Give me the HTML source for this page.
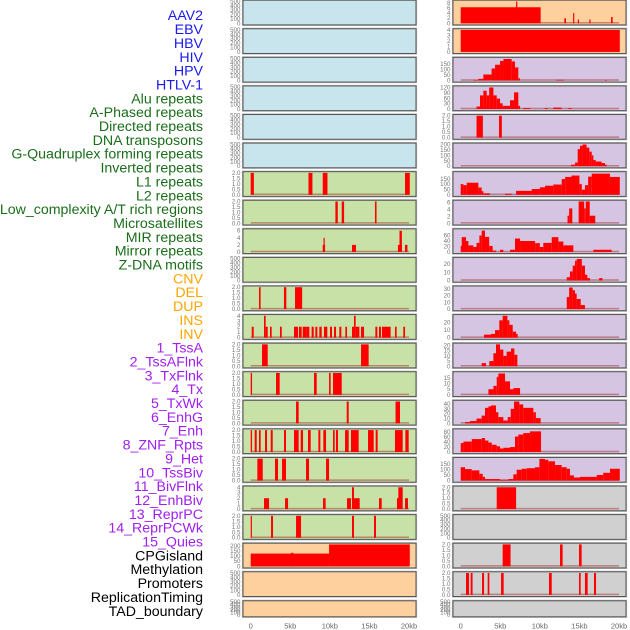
<!DOCTYPE html>
<html><head><meta charset="utf-8"><style>
html,body{margin:0;padding:0;background:#fff;}
svg{display:block;font-family:"Liberation Sans",sans-serif;}
</style></head><body>
<svg id="chart" width="630" height="630"></svg>
<script>
const labelNames = ["AAV2","EBV","HBV","HIV","HPV","HTLV-1","Alu repeats","A-Phased repeats","Directed repeats","DNA transposons","G-Quadruplex forming repeats","Inverted repeats","L1 repeats","L2 repeats","Low_complexity A/T rich regions","Microsatellites","MIR repeats","Mirror repeats","Z-DNA motifs","CNV","DEL","DUP","INS","INV","1_TssA","2_TssAFlnk","3_TxFlnk","4_Tx","5_TxWk","6_EnhG","7_Enh","8_ZNF_Rpts","9_Het","10_TssBiv","11_BivFlnk","12_EnhBiv","13_ReprPC","14_ReprPCWk","15_Quies","CPGisland","Methylation","Promoters","ReplicationTiming","TAD_boundary"];
const labelGroups = ["virus","virus","virus","virus","virus","virus","repeat","repeat","repeat","repeat","repeat","repeat","repeat","repeat","repeat","repeat","repeat","repeat","repeat","sv","sv","sv","sv","sv","chrom","chrom","chrom","chrom","chrom","chrom","chrom","chrom","chrom","chrom","chrom","chrom","chrom","chrom","chrom","other","other","other","other","other"];
const xTickValues = [0,5000,10000,15000,20000];
const xTickLabels = ["0","5kb","10kb","15kb","20kb"];

const T500=[0,100,200,300,400,500], T2=[0,0.5,1,1.5,2];
// left column segments [startKb,endKb,value]
const L6=[[0,0.4,2],[7.3,7.8,2],[9.1,9.7,2],[19.5,20.1,2]];
const L7=[[10.7,11.0,2],[11.5,11.8,2],[15.7,15.9,2]];
const L8=[[9.1,9.4,2],[9.2,9.35,4],[12.8,13.3,2],[18.6,19.1,2],[18.8,19.1,6],[19.5,19.8,2]];
const L10=[[1.05,1.25,2],[4.2,4.5,2],[5.6,6.1,2],[6.1,6.5,2]];
const L11=[[0.13,0.38,2],[1.68,1.89,4],[1.89,2.15,2],[2.44,2.65,2],[3.7,3.92,2],[5.47,5.98,2],[6.1,6.44,2],[6.57,7.07,2],[7.07,7.41,2],[7.7,7.96,2],[8.17,8.42,2],[8.67,8.97,2],[9.26,9.68,2],[10.02,10.27,2],[10.53,10.78,2],[11.2,11.45,2],[11.96,12.17,2],[12.8,13.05,2],[13.05,13.26,4],[13.26,13.73,2],[13.94,14.32,2],[15.75,16.0,2],[16.21,16.46,2],[16.59,17.68,2],[18.23,18.44,2],[19.28,19.5,2]];
const L12=[[1.43,2.15,2],[13.94,14.9,2]];
const L13=[[0,0.17,2],[3.2,3.66,2],[8.0,8.34,2],[9.9,10.1,2],[10.4,11.5,2]];
const L14=[[5.73,6.06,2],[12.13,12.38,2],[18.3,18.86,2]];
const L15=[[0,0.17,2],[0.5,0.76,2],[1.05,1.26,2],[1.81,2.06,2],[2.53,2.78,2],[4.21,4.46,2],[5.47,6.06,2],[6.32,6.61,2],[7.24,7.58,2],[8.55,8.8,2],[9.18,9.52,2],[10.4,10.61,2],[10.78,11.03,2],[11.92,12.38,2],[12.67,13.64,2],[14.82,15.54,2],[15.79,16.04,2],[18.23,19.2,2],[19.54,19.96,2]];
const L16=[[0.84,1.52,2],[3.07,3.45,2],[3.96,4.46,2],[6.99,7.37,2],[9.52,9.9,2]];
const L17=[[1.68,2.32,2],[4.34,4.72,2],[9.14,9.47,2],[12.17,12.67,2],[12.8,13.05,4],[13.05,13.77,2],[16.21,16.55,2],[18.48,18.78,2],[18.65,19.2,4],[19.5,19.87,2]];
const L18=[[0,0.13,2],[2.57,2.82,2],[5.73,6.36,2],[12.8,13.05,2],[15.58,15.83,2]];
const L19=[[0,9.9,125],[5.1,5.4,133],[9.9,20.1,220]];
// right column segments
const R0=[[0,10.1,6.3],[7.0,7.15,8.8],[13.1,13.3,2],[14.2,14.35,4],[14.8,14.95,1.5],[16.25,16.4,1.5],[19.0,19.2,2.5]];
const R1=[[0,20.1,4]];
const R2=[[1.6,2.23,5],[2.23,2.86,15],[2.86,3.9,55],[3.9,4.34,110],[4.34,4.97,145],[4.97,5.4,180],[5.4,6.44,198],[6.44,6.86,175],[6.86,7.28,120],[7.28,7.5,20],[12.1,13.0,6],[18.2,18.5,5]];
const R3=[[2.0,2.44,14],[2.44,2.86,76],[2.86,3.28,102],[3.28,3.6,76],[3.6,4.13,120],[4.13,4.55,76],[4.55,4.97,58],[4.97,5.3,32],[5.3,6.23,18],[6.23,6.74,49],[6.74,7.28,93],[7.28,7.5,18],[7.9,8.8,5],[10.6,11.0,5],[11.7,12.75,8],[13.6,14.0,5]];
const R4=[[2.0,2.8,2],[4.84,5.2,2]];
const R5=[[13.94,14.45,14],[14.45,14.78,34],[14.78,15.07,157],[15.07,15.4,189],[15.4,15.9,200],[15.9,16.25,171],[16.25,16.55,134],[16.55,16.76,100],[16.76,17.05,57],[17.05,17.8,43],[17.8,18.23,29],[18.23,18.45,14]];
const R6=[[0,0.34,100],[0.34,0.76,90],[0.76,2.23,113],[2.23,2.65,68],[2.65,2.86,34],[2.86,3.7,14],[5.6,6.44,10],[7.0,8.97,37],[8.97,10.0,54],[10.0,10.65,70],[10.65,11.7,85],[11.7,12.76,96],[12.76,13.2,147],[13.2,14.0,167],[14.0,15.0,180],[15.0,15.3,100],[15.3,15.7,48],[15.7,16.1,90],[16.1,16.55,170],[16.55,18.86,198],[18.86,20.1,167]];
const R7=[[13.5,13.7,2.2],[13.7,14.1,4.3],[14.9,15.6,6.3],[15.6,15.8,4.3],[15.8,16.3,6.3],[16.3,17.0,2.2]];
const R8=[[0,0.13,22],[0.13,0.67,54],[0.67,0.97,40],[0.97,1.6,24],[1.6,2.0,18],[2.0,2.36,33],[2.36,2.65,60],[2.65,3.07,78],[3.07,3.6,55],[3.6,4.04,22],[4.04,4.46,5],[4.97,5.39,8],[6.23,6.86,8],[6.86,7.5,49],[7.5,9.4,40],[9.4,10.0,32],[10.0,10.44,18],[10.44,11.5,33],[11.5,12.34,54],[12.34,12.97,38],[12.97,14.23,24],[16.76,19.07,8]];
const R9=[[13.4,13.8,4],[13.8,14.15,11],[14.15,14.44,18],[14.44,14.65,24],[14.65,15.3,26],[15.3,15.7,18],[15.7,16.0,7],[16.0,16.34,3],[17.5,17.9,3]];
const R10=[[13.4,13.7,18],[13.7,14.15,32],[14.15,14.44,28],[14.44,14.65,23],[14.65,15.16,15],[15.16,15.7,6]];
const R11=[[2.95,3.83,4],[3.83,4.34,5],[4.34,4.88,10],[4.88,5.3,23],[5.3,5.9,29],[5.9,6.15,23],[6.15,6.57,17],[6.57,7.0,8],[7.0,7.2,5]];
const R12=[[2.65,3.2,3],[3.62,4.13,5],[4.13,4.46,12.5],[4.46,4.97,21],[4.97,5.39,16],[5.39,5.8,10],[5.8,6.36,14],[6.36,6.78,17],[6.78,7.16,11]];
const R13=[[3.5,4.13,5],[4.13,4.55,8],[4.55,4.76,16],[4.76,5.6,19],[5.6,6.23,12],[6.23,6.65,5],[6.65,7.5,6]];
const R14=[[0.55,1.18,3],[1.18,2.0,5],[2.0,2.65,10],[2.65,3.07,16],[3.07,3.5,32],[3.5,3.83,35],[3.83,4.46,37],[4.46,4.76,23],[4.76,5.39,13],[5.39,5.94,6],[5.94,6.32,13],[6.32,6.74,30],[6.74,7.41,45],[7.41,7.9,39],[7.9,9.18,32],[9.18,9.5,23],[9.5,10.1,11]];
const R15=[[0,0.34,36],[0.34,1.4,42],[1.4,2.65,52],[2.65,3.07,56],[3.07,3.5,46],[3.5,3.92,38],[3.92,4.55,29],[4.55,4.97,23],[4.97,5.39,14],[5.39,6.23,17],[6.23,6.86,20],[6.86,7.28,62],[7.28,7.9,70],[7.9,8.76,76],[8.76,10.15,83]];
const R16=[[0,0.55,122],[0.55,1.39,105],[1.39,2.36,93],[2.36,2.78,62],[2.78,3.07,34],[3.07,4.97,14],[4.97,6.02,8],[6.02,6.65,14],[6.65,7.07,57],[7.07,7.7,99],[7.7,8.34,108],[8.34,9.39,113],[9.39,9.94,122],[9.94,10.65,198],[10.65,11.07,190],[11.07,11.92,176],[11.92,12.76,142],[12.76,13.4,122],[13.4,13.8,108],[13.8,14.3,48],[14.3,15.07,28],[15.07,17.18,34],[17.18,18.0,51],[18.0,18.86,71],[18.86,20.1,108]];
const R17=[[4.55,7.0,2]];
const R19=[[5.3,6.3,2],[12.55,12.88,2],[14.95,15.28,2]];
const R20=[[0.67,1.05,2],[1.26,1.5,2],[2.7,2.95,2],[3.41,3.62,2],[5.1,5.43,2],[11.16,11.5,2],[14.95,15.16,2],[15.7,16.04,2],[16.84,17.1,2]];

const leftSegs=[[],[],[],[],[],[],L6,L7,L8,[],L10,L11,L12,L13,L14,L15,L16,L17,L18,L19,[],[]];
const leftTicks=[T500,T500,T500,T500,T500,T500,T2,T2,[0,2,4,6],T500,T2,[0,1,2,3,4],T2,T2,T2,T2,T2,[0,1,2,3,4],T2,[0,50,100,150,200],T500,T500];
const leftMax=[500,500,500,500,500,500,2,2,6.2,500,2,4,2,2,2,2,2,4,2,215,500,500];
const leftBg=["b","b","b","b","b","b","g","g","g","g","g","g","g","g","g","g","g","g","g","o","o","o"];
const rightSegs=[R0,R1,R2,R3,R4,R5,R6,R7,R8,R9,R10,R11,R12,R13,R14,R15,R16,R17,[],R19,R20,[]];
const rightTicks=[[0,2,4,6,8],[0,1,2,3,4],[0,50,100,150],[0,30,60,90,120],T2,[0,50,100,150,200],[0,50,100,150],[0,2,4,6],[0,20,40,60],[0,10,20],[0,10,20,30],[0,10,20],[0,5,10,15,20],[0,5,10,15],[0,10,20,30,40],[0,20,40,60,80],[0,50,100,150],T2,T500,T2,T2,T500];
const rightMax=[8.6,4,202,122,2,202,205,6.3,80,26.5,32.5,29,21,19.5,45,88,200,2,500,2,2,500];
const rightBg=["o","o","p","p","p","p","p","p","p","p","p","p","p","p","p","p","p","gr","gr","gr","gr","gr"];

const NS="http://www.w3.org/2000/svg";
const svg=document.getElementById('chart');
const bgColors={b:"#c8e4ec",g:"#c8e1a6",o:"#fed09e",p:"#d5c5e2",gr:"#d0d0d0"};
const groupColors={virus:"#1a1aee",repeat:"#1a6e1a",sv:"#ffa500",chrom:"#a020f0",other:"#000000"};
function mk(tag,attrs,parent){const e=document.createElementNS(NS,tag);for(const k in attrs)e.setAttribute(k,attrs[k]);(parent||svg).appendChild(e);return e;}

// labels
labelNames.forEach((n,i)=>{
  const t=mk('text',{x:203,y:15.2+i*13.85+5,'text-anchor':'end','font-size':'14.2',fill:groupColors[labelGroups[i]],textLength:0});
  t.removeAttribute('textLength');
  
  
  t.textContent=n;
});

function xScale(col,kb){const x0=col===0?250.7:460.7;return x0+kb*7.915;}
function panelTop(r){return r<21?0.2+r*28.58:600.8;}
function panelH(r){return r<21?24.7:16;}

function drawPanel(col,r,segs,ticks,ymax,bg){
  const g=mk('g',{});
  
  
  const px=col===0?243:453, pw=173;
  const top=panelTop(r), h=panelH(r);
  const base=top+h-1.6, ytop=top+1.2;
  const ys=v=>base-(Math.min(v,ymax)/ymax)*(base-ytop);
  mk('rect',{x:px-0.5,y:top-0.5,width:pw+1,height:h+1,fill:'none',stroke:'#bbb','stroke-width':1.2},g);
  const bgr=mk('rect',{x:px,y:top,width:pw,height:h,fill:bgColors[bg],stroke:'#555','stroke-width':1},g);
  
  
  if(segs.length){
    mk('line',{x1:xScale(col,0),x2:xScale(col,20),y1:base-0.5,y2:base-0.5,stroke:'rgba(170,60,60,0.55)','stroke-width':1.5},g);
  }
  segs.forEach(s=>{
    const x1=xScale(col,s[0]),x2=xScale(col,s[1]);
    const y=ys(s[2]);
    const b=mk('rect',{x:x1,y:y,width:Math.max(1.2,x2-x1),height:base-y,fill:'#ff0000'},g);
    
    
  });
  const dec=ticks[ticks.length-1]===2&&ticks.includes(0.5);
  ticks.forEach(tv=>{
    const t=mk('text',{x:px-2.5,y:ys(tv)+2,'text-anchor':'end','font-size':'6.2',fill:'#777'},g);
    
    
    t.textContent=dec?tv.toFixed(1):String(tv);
  });
}
for(let r=0;r<22;r++){
  drawPanel(0,r,leftSegs[r],leftTicks[r],leftMax[r],leftBg[r]);
  drawPanel(1,r,rightSegs[r],rightTicks[r],rightMax[r],rightBg[r]);
}
[0,1].forEach(col=>{
  xTickValues.forEach((v,i)=>{
    const t=mk('text',{x:xScale(col,v/1000),y:628.5,'text-anchor':'middle','font-size':'7.5',fill:'#666'});
    
    
    t.textContent=xTickLabels[i];
  });
});
</script>
</body></html>
